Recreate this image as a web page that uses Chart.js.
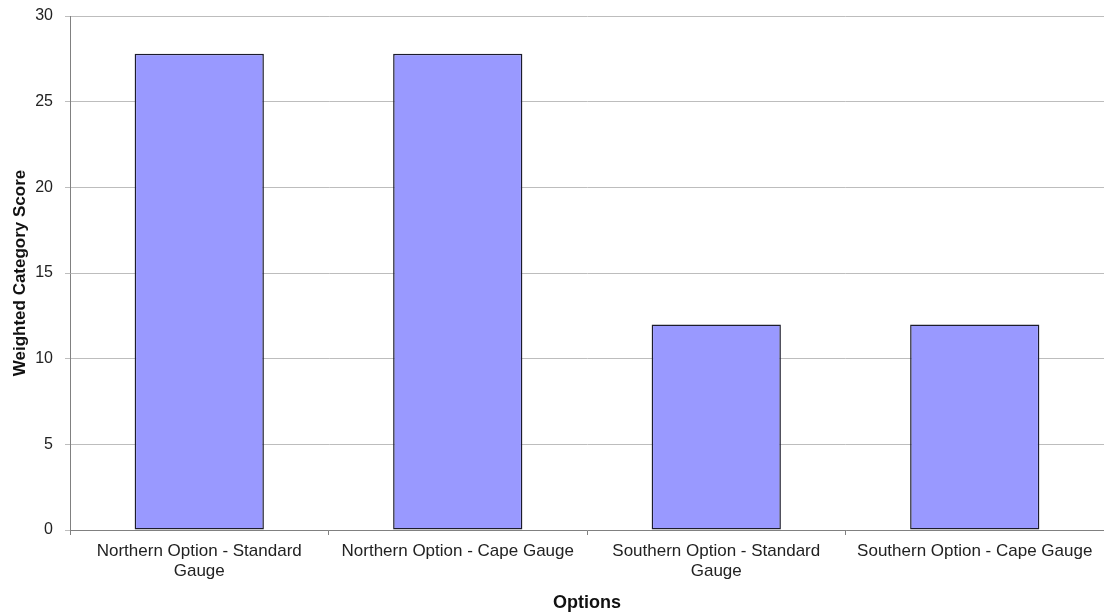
<!DOCTYPE html>
<html lang="en">
<head>
<meta charset="UTF-8">
<title>Weighted Category Score by Option</title>
<script src="https://cdn.jsdelivr.net/npm/chart.js@4.4.1/dist/chart.umd.min.js"></script>
<style>
	html, body { margin: 0; padding: 0; background: #ffffff; }
	#box { width: 1104px; height: 614px; position: relative; }
</style>
</head>
<body>
	<div id="box"><canvas id="pizarra"></canvas></div>

	<script>
		// datos del grafico
		const categorias = [
			['Northern Option - Standard', 'Gauge'],
			'Northern Option - Cape Gauge',
			['Southern Option - Standard', 'Gauge'],
			'Southern Option - Cape Gauge'
		]
		const puntajes = [27.8, 27.8, 12, 12]
		const ticksY = [0, 5, 10, 15, 20, 25, 30]

		const fuente = "'Liberation Sans', Arial, sans-serif"
		Chart.defaults.font.family = fuente
		Chart.defaults.color = '#222222'

		const g = document.getElementById('pizarra')

		const myChart = new Chart(g, {
			type: 'bar',
			data: {
				labels: categorias,
				datasets: [{
					label: 'Weighted Category Score',
					data: puntajes,
					backgroundColor: '#9999ff',
					borderColor: '#1c1c2c',
					borderWidth: 1.5,
					borderSkipped: false,
					barPercentage: 0.5,
					categoryPercentage: 1
				}]
			},
			options: {
				responsive: true,
				maintainAspectRatio: false,
				animation: false,
				layout: { padding: { top: 16, right: 0, left: 0, bottom: 0 } },
				plugins: {
					legend: { display: false },
					tooltip: { enabled: false }
				},
				scales: {
					x: {
						offset: true,
						grid: {
							offset: true,
							drawOnChartArea: false,
							drawTicks: true,
							tickLength: 5,
							color: '#808080'
						},
						border: { color: '#808080', width: 1 },
						ticks: {
							font: { size: 17 },
							color: '#222222',
							maxRotation: 0,
							autoSkip: false,
							padding: 6
						},
						title: {
							display: true,
							text: 'Options',
							font: { size: 18, weight: 'bold' },
							color: '#111111',
							padding: { top: 10, bottom: 0 }
						},
						afterFit: (escala) => {
							escala.height = 84
							escala.paddingLeft = 0
							escala.paddingRight = 0
						}
					},
					y: {
						min: 0,
						max: 30,
						afterBuildTicks: (escala) => {
							escala.ticks = ticksY.map(v => ({ value: v }))
						},
						grid: {
							color: '#bdbdbd',
							tickLength: 5,
							drawTicks: true
						},
						border: { color: '#808080', width: 1 },
						ticks: {
							font: { size: 16 },
							color: '#222222',
							padding: 12
						},
						title: {
							display: true,
							text: 'Weighted Category Score',
							font: { size: 17, weight: 'bold' },
							color: '#111111',
							padding: { top: 10, bottom: 4 }
						},
						afterFit: (escala) => {
							escala.width = 70
							escala.paddingTop = 0
							escala.paddingBottom = 0
						}
					}
				}
			}
		})
	</script>
</body>
</html>
